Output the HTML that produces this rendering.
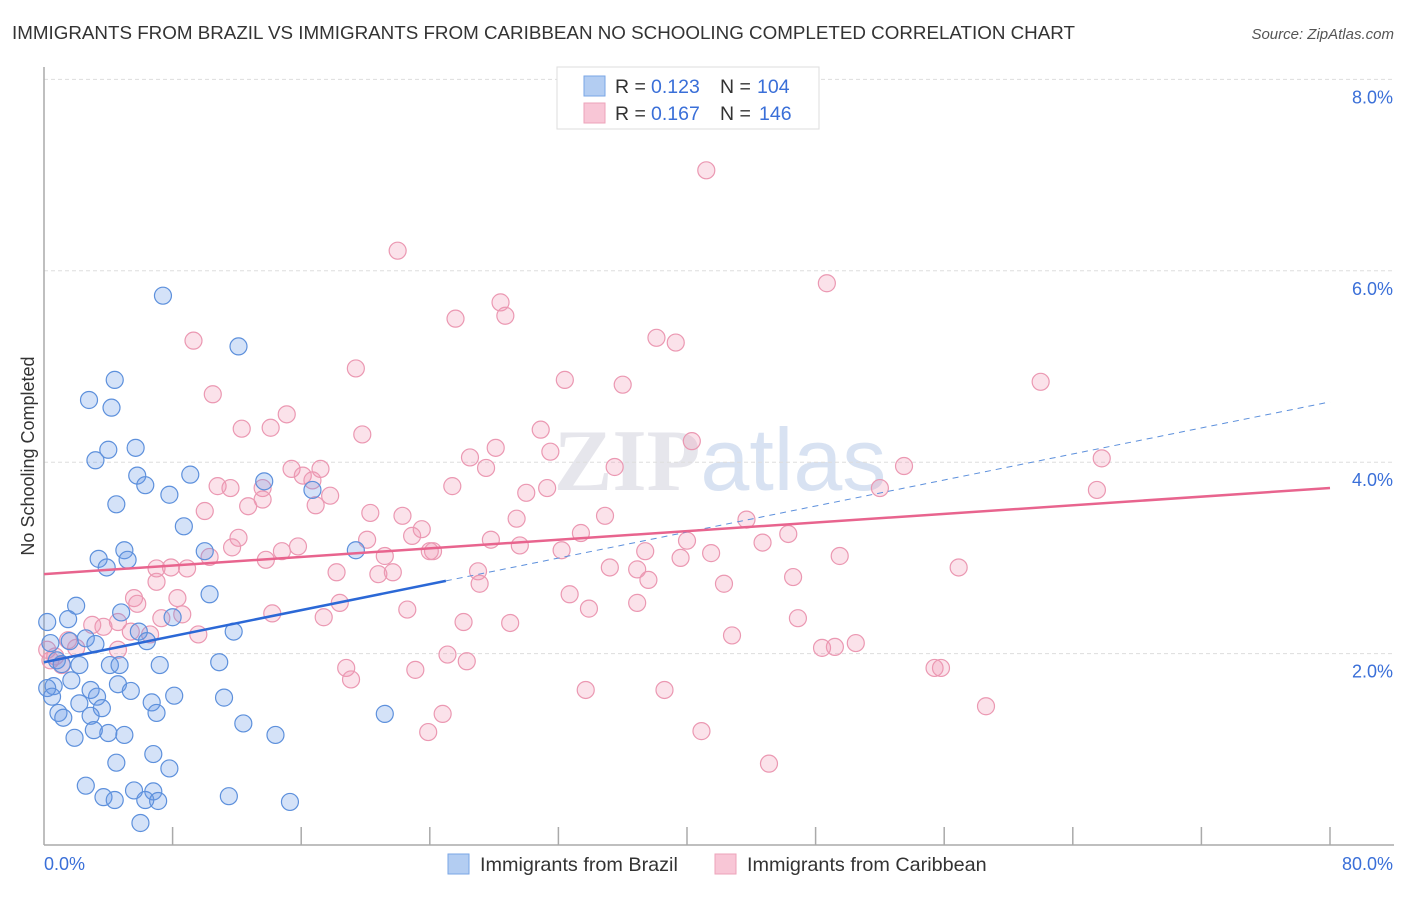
<!DOCTYPE html>
<html><head><meta charset="utf-8"><style>
body{margin:0;background:#fff;font-family:"Liberation Sans",sans-serif;}
</style></head><body>
<svg width="1406" height="892" xmlns="http://www.w3.org/2000/svg" font-family="Liberation Sans, sans-serif">
<text x="12" y="39" font-size="18.8" fill="#333">IMMIGRANTS FROM BRAZIL VS IMMIGRANTS FROM CARIBBEAN NO SCHOOLING COMPLETED CORRELATION CHART</text>
<text x="1394" y="39" font-size="15" fill="#555" font-style="italic" text-anchor="end">Source: ZipAtlas.com</text>
<text x="720" y="490" font-size="88" fill="#e6e6ec" text-anchor="middle" font-weight="bold" font-family="Liberation Serif, serif">ZIP<tspan font-family="Liberation Sans, sans-serif" font-weight="normal" fill="#d8e2f2">atlas</tspan></text>
<g id="grid"></g><g id="axes"></g><g id="pts"></g><g id="lines"></g>
<text transform="translate(34,456) rotate(-90)" font-size="18" fill="#333" text-anchor="middle">No Schooling Completed</text>
<g>
<rect x="557" y="67" width="262" height="62" fill="#fff" stroke="#ddd"/>
<rect x="584" y="76" width="21" height="20" fill="#b3cdf2" stroke="#7aa6e6"/>
<rect x="584" y="103" width="21" height="20" fill="#f8c6d6" stroke="#eda3ba"/>
<text x="615" y="93" font-size="19.5" fill="#333">R =</text><text x="651" y="93" font-size="19.5" fill="#3a6fd8">0.123</text>
<text x="720" y="93" font-size="19.5" fill="#333">N =</text><text x="757" y="93" font-size="19.5" fill="#3a6fd8">104</text>
<text x="615" y="120" font-size="19.5" fill="#333">R =</text><text x="651" y="120" font-size="19.5" fill="#3a6fd8">0.167</text>
<text x="720" y="120" font-size="19.5" fill="#333">N =</text><text x="759" y="120" font-size="19.5" fill="#3a6fd8">146</text>
</g>
<g>
<rect x="448" y="854" width="21" height="20" fill="#b3cdf2" stroke="#7aa6e6"/>
<text x="480" y="871" font-size="19.8" fill="#333">Immigrants from Brazil</text>
<rect x="715" y="854" width="21" height="20" fill="#f8c6d6" stroke="#eda3ba"/>
<text x="747" y="871" font-size="19.8" fill="#333">Immigrants from Caribbean</text>
</g>
</svg>
<script>
const yTicks=[2,4,6,8];
const yTickLabels=["2.0%","4.0%","6.0%","8.0%"];
const xTicks=[0,8,16,24,32,40,48,56,64,72,80];
const brazilX=[7.4,12.1,4.4,2.8,4.2,4.0,5.7,3.2,5.8,9.1,6.3,13.7,4.5,7.8,16.7,8.7,5.0,10.0,19.4,5.2,3.4,3.9,10.3,2.0,4.8,1.5,0.2,8.0,5.9,11.8,2.6,1.6,6.4,3.2,0.4,0.8,1.1,4.1,4.7,7.2,10.9,2.2,1.7,0.6,0.2,4.6,2.9,5.4,0.5,3.3,8.1,11.2,6.7,2.2,3.6,0.9,1.2,2.9,7.0,21.2,12.4,4.0,3.1,5.0,1.9,14.4,6.8,4.5,7.8,2.6,5.6,6.8,3.7,4.4,6.3,7.1,11.5,15.3,6.0];
const brazilY=[5.74,5.21,4.86,4.65,4.57,4.13,4.15,4.02,3.86,3.87,3.76,3.80,3.56,3.66,3.71,3.33,3.08,3.07,3.08,2.98,2.99,2.90,2.62,2.50,2.43,2.36,2.33,2.38,2.23,2.23,2.16,2.13,2.13,2.10,2.11,1.93,1.89,1.88,1.88,1.88,1.91,1.88,1.72,1.66,1.64,1.68,1.62,1.61,1.55,1.55,1.56,1.54,1.49,1.48,1.43,1.38,1.33,1.35,1.38,1.37,1.27,1.17,1.20,1.15,1.12,1.15,0.95,0.86,0.80,0.62,0.57,0.56,0.50,0.47,0.47,0.46,0.51,0.45,0.23];
const caribX=[41.2,22.0,48.7,9.3,25.6,28.4,28.7,38.1,39.3,19.4,10.5,32.4,36.0,62.0,15.1,12.3,14.1,19.8,30.9,40.3,28.1,26.5,31.5,65.8,15.4,17.2,27.5,35.5,53.5,10.8,11.6,13.6,16.1,16.7,13.6,17.8,25.4,31.3,30.0,52.0,65.5,16.9,10.0,12.7,20.3,22.3,29.4,34.9,43.7,12.1,22.9,23.5,33.4,46.3,11.7,14.8,15.8,20.1,24.2,27.8,29.6,32.2,40.0,44.7,10.3,13.8,21.2,24.0,37.4,39.6,41.5,49.5,7.0,7.9,8.9,18.2,20.8,21.7,27.0,35.2,36.9,56.9,7.0,37.6,42.3,46.6,27.1,32.7,5.6,8.3,8.6,5.8,33.9,36.9,22.6,14.2,17.4,7.3,18.4,4.6,3.7,3.0,5.4,6.6,9.6,26.1,29.0,46.9,42.8,1.5,2.0,0.7,4.6,48.4,49.2,50.5,25.1,26.3,18.8,23.1,55.4,55.8,19.1,33.7,38.6,24.8,23.9,40.9,58.6,45.1,0.4,1.1,0.2];
const caribY=[7.05,6.21,5.87,5.27,5.50,5.67,5.53,5.30,5.25,4.98,4.71,4.86,4.81,4.84,4.50,4.35,4.36,4.29,4.34,4.22,4.15,4.05,4.11,4.04,3.93,3.93,3.94,3.95,3.96,3.75,3.73,3.73,3.86,3.81,3.61,3.65,3.75,3.73,3.68,3.73,3.71,3.55,3.49,3.54,3.47,3.44,3.41,3.44,3.40,3.21,3.23,3.30,3.26,3.25,3.11,3.07,3.12,3.19,3.07,3.19,3.13,3.08,3.18,3.16,3.01,2.98,3.02,3.07,3.07,3.00,3.05,3.02,2.89,2.90,2.89,2.85,2.83,2.85,2.86,2.90,2.88,2.90,2.75,2.77,2.73,2.80,2.73,2.62,2.58,2.58,2.41,2.52,2.47,2.53,2.46,2.42,2.38,2.37,2.53,2.33,2.28,2.30,2.23,2.20,2.20,2.33,2.32,2.37,2.19,2.14,2.06,1.97,2.04,2.06,2.07,2.11,1.99,1.92,1.85,1.83,1.85,1.85,1.73,1.62,1.62,1.37,1.18,1.19,1.45,0.85,1.93,1.88,2.04];
const brazilTrend=[1.91,4.63];
const caribTrend=[2.83,3.73];
const NS="http://www.w3.org/2000/svg";
const X0=44,X1=1330,Y0=845,PXY=95.7;
function sx(v){return X0+(X1-X0)*v/80;}
function sy(v){return Y0-v*PXY;}
function mk(tag,attrs,parent){const e=document.createElementNS(NS,tag);for(const k in attrs)e.setAttribute(k,attrs[k]);document.getElementById(parent).appendChild(e);return e;}
yTicks.forEach((t,i)=>{
 const g=mk('line',{x1:X0,x2:1394,y1:sy(t),y2:sy(t),stroke:'#ddd','stroke-dasharray':'4,3'},'grid');
 
 
 const l=mk('text',{x:1393,y:sy(t)+24,'font-size':18,fill:'#3a6fd8','text-anchor':'end'},'grid');
 l.textContent=yTickLabels[i];
 
 
});
const ya=mk('line',{x1:X0,x2:X0,y1:67,y2:Y0,stroke:'#aaa','stroke-width':1.5},'axes');


const xa=mk('line',{x1:X0,x2:1394,y1:Y0,y2:Y0,stroke:'#aaa','stroke-width':1.5},'axes');


xTicks.slice(1).forEach(t=>{
 const e=mk('line',{x1:sx(t),x2:sx(t),y1:Y0-18,y2:Y0,stroke:'#aaa','stroke-width':1.5},'axes');
 
 
});
const xl0=mk('text',{x:X0,y:870,'font-size':18,fill:'#3a6fd8'},'axes');xl0.textContent='0.0%';


const xl1=mk('text',{x:1393,y:870,'font-size':18,fill:'#3a6fd8','text-anchor':'end'},'axes');xl1.textContent='80.0%';


function pts(xs,ys,fill,stroke,name){xs.forEach((x,i)=>{
 const c=mk('circle',{cx:sx(x),cy:sy(ys[i]),r:8.5,fill:fill,stroke:stroke,'stroke-width':1.2},'pts');
 
 
});}
pts(caribX,caribY,'rgba(240,150,180,0.28)','#eb98b2','caribbean-point');
pts(brazilX,brazilY,'rgba(100,150,230,0.28)','#5d90dc','brazil-point');
const bt=v=>brazilTrend[0]+(brazilTrend[1]-brazilTrend[0])*v/80;
const l1=mk('line',{x1:sx(0),y1:sy(bt(0)),x2:sx(25),y2:sy(bt(25)),stroke:'#2b68d6','stroke-width':2.5},'lines');


const l2=mk('line',{x1:sx(25),y1:sy(bt(25)),x2:sx(80),y2:sy(bt(80)),stroke:'#5d90dc','stroke-width':1,'stroke-dasharray':'6,5'},'lines');


const l3=mk('line',{x1:sx(0),y1:sy(caribTrend[0]),x2:sx(80),y2:sy(caribTrend[1]),stroke:'#e8648e','stroke-width':2.5},'lines');


</script>
</body></html>
